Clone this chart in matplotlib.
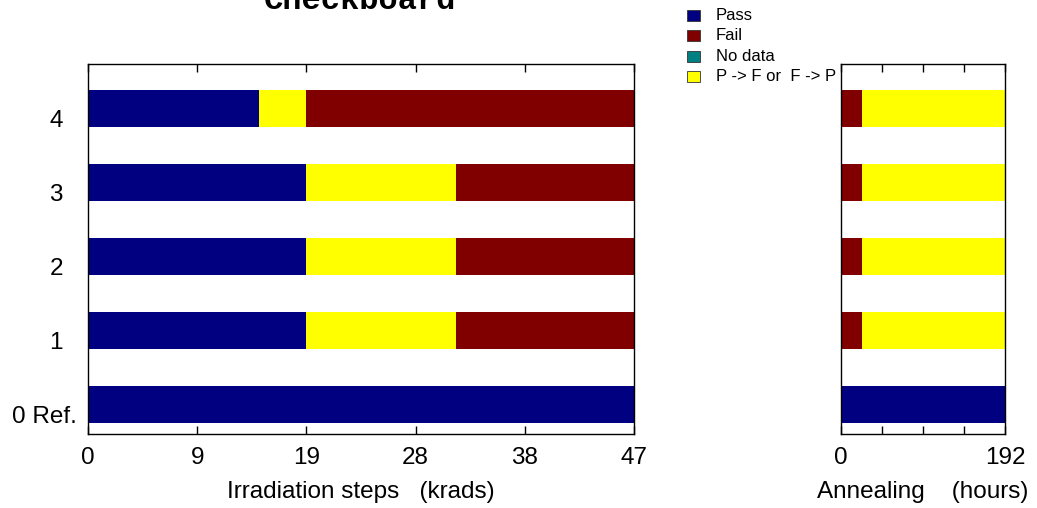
import matplotlib
matplotlib.use('Agg')
import matplotlib.pyplot as plt
from matplotlib.patches import Rectangle
from matplotlib.transforms import blended_transform_factory

# irradiation dose steps (krads) and pass/fail status per chip row
dose_steps = [0, 5, 10, 14.7, 18.8, 31.7, 47]
dose_status = {
    0: ['P', 'P', 'P', 'P', 'P', 'P'],
    1: ['P', 'P', 'P', 'P', 'X', 'F'],
    2: ['P', 'P', 'P', 'P', 'X', 'F'],
    3: ['P', 'P', 'P', 'P', 'X', 'F'],
    4: ['P', 'P', 'P', 'X', 'F', 'F'],
}

# annealing steps (hours)
anneal_steps = [0, 24, 192]
anneal_status = {
    0: ['P', 'P'],
    1: ['F', 'X'],
    2: ['F', 'X'],
    3: ['F', 'X'],
    4: ['F', 'X'],
}

row_labels = ['0 Ref.', '1', '2', '3', '4']
dose_ticks = [0, 9.4, 18.8, 28.2, 37.6, 47]
dose_tick_labels = ['0', '9', '19', '28', '38', '47']
anneal_ticks = [0, 48, 96, 144, 192]
anneal_tick_labels = ['0', '', '', '', '192']

colors = {'P': '#000080', 'F': '#800000', 'N': '#008080', 'X': '#ffff00'}
legend_names = [('P', 'Pass'), ('F', 'Fail'), ('N', 'No data'), ('X', 'P -> F or  F -> P')]

plt.rcParams['font.family'] = ['Liberation Sans', 'DejaVu Sans']
FS = 17.5

fig = plt.figure(figsize=(10.37, 5.08), dpi=100)
ax1 = fig.add_axes([88 / 1037, 1 - 434 / 508, 546 / 1037, 370 / 508])
ax2 = fig.add_axes([841 / 1037, 1 - 434 / 508, 164 / 1037, 370 / 508])


def draw_rows(ax, steps, status):
    for row, st in status.items():
        for i, s in enumerate(st):
            ax.barh(row, steps[i + 1] - steps[i], left=steps[i], height=0.5,
                    color=colors[s], linewidth=0)


draw_rows(ax1, dose_steps, dose_status)
draw_rows(ax2, anneal_steps, anneal_status)

for ax, steps, ticks, labels in [(ax1, dose_steps, dose_ticks, dose_tick_labels),
                                 (ax2, anneal_steps, anneal_ticks, anneal_tick_labels)]:
    ax.set_xlim(steps[0], steps[-1])
    ax.set_ylim(-0.4, 4.6)
    ax.set_xticks(ticks)
    ax.set_xticklabels(labels)
    ax.set_yticks([])
    ax.tick_params(axis='x', direction='in', top=True, bottom=True, length=6,
                   width=1, labelsize=FS, pad=9)
    for sp in ax.spines.values():
        sp.set_linewidth(1)

ax1.set_xlabel('Irradiation steps   (krads)', fontsize=FS, labelpad=9)
ax2.set_xlabel('Annealing    (hours)', fontsize=FS, labelpad=9)

# row labels, baseline on the lower edge of each bar
trans = blended_transform_factory(ax1.transAxes, ax1.transData)
for row, lab in enumerate(row_labels):
    x = -0.020 if row == 0 else -0.046
    ax1.text(x, row - 0.25, lab, transform=trans, ha='right', va='baseline', fontsize=FS)

# title (cut off at the top, like the original)
fig.text(360 / 1037, 1 - 9 / 508, 'Checkboard', ha='center', va='baseline',
         fontsize=23, fontweight='bold', family='Liberation Mono')

# legend
for i, (key, name) in enumerate(legend_names):
    yc = 15.5 + i * 20.3
    fig.patches.append(Rectangle((687 / 1037, 1 - (yc + 5.5) / 508), 13 / 1037, 11 / 508,
                                 transform=fig.transFigure, facecolor=colors[key],
                                 edgecolor='#333333', linewidth=0.6))
    fig.text(716 / 1037, 1 - yc / 508, name, ha='left', va='center', fontsize=12)

fig.savefig('out.png', dpi=100)
